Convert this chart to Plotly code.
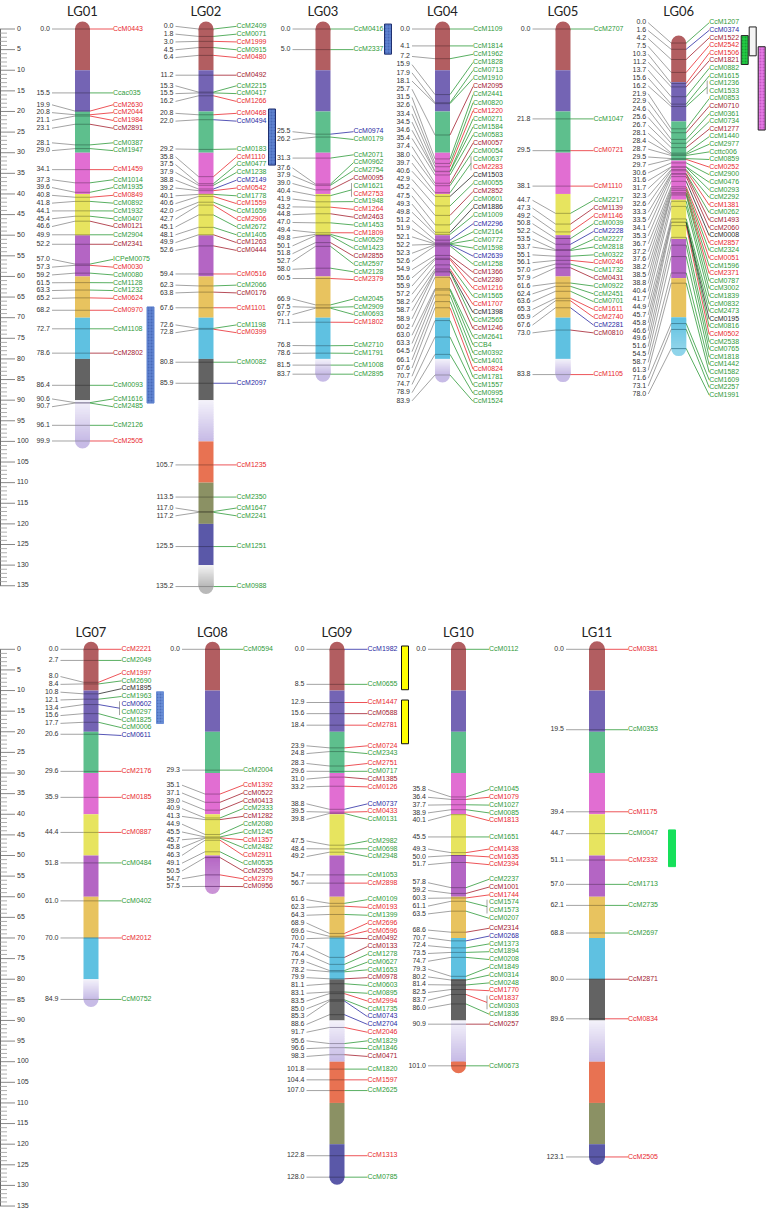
import math
import plotly.graph_objects as go

# ---------------- marker data (positions in cM) ----------------
LG01_pos = [0.0, 15.5, 19.9, 20.8, 21.1, 23.1, 28.1, 29.0, 34.1, 37.3, 39.6, 40.8, 41.8, 44.1, 45.4, 46.6, 49.9, 52.2,
            57.0, 57.3, 59.2, 61.5, 63.3, 65.2, 68.2, 72.7, 78.6, 86.4, 90.6, 90.7, 96.1, 99.9]
LG01_names = ["CcM0443", "Ccac035", "CcM2630", "CcM2044", "CcM1984", "CcM2891", "CcM0387", "CcM1947", "CcM1459",
              "CcM1014", "CcM1935", "CcM0849", "CcM0892", "CcM1932", "CcM0407", "CcM0121", "CcM2904", "CcM2341",
              "ICPeM0075", "CcM0030", "CcM0080", "CcM1128", "CcM1232", "CcM0624", "CcM0970", "CcM1108", "CcM2802",
              "CcM0093", "CcM1616", "CcM2485", "CcM2126", "CcM2505"]
LG01_npos = LG01_pos
LG01_cols = "rgrrrmggrggrgggmgmgrgggrrgmggggr"

LG02_pos = [0.0, 1.8, 3.0, 4.5, 6.4, 11.2, 15.3, 15.5, 16.2, 20.8, 22.0, 29.2, 35.8, 37.5, 37.9, 38.8, 39.2, 40.1,
            40.6, 42.0, 42.7, 45.1, 48.1, 49.9, 52.6, 59.4, 62.3, 63.8, 67.6, 72.6, 72.8, 80.8, 85.9, 105.7, 113.5,
            117.0, 117.2, 125.5, 135.2]
LG02_names = ["CcM2409", "CcM0071", "CcM1999", "CcM0915", "CcM0480", "CcM0492", "CcM2215", "CcM0417", "CcM1266",
              "CcM0468", "CcM0494", "CcM0183", "CcM1110", "CcM0477", "CcM1238", "CcM2149", "CcM0542", "CcM1778",
              "CcM1559", "CcM1659", "CcM2906", "CcM2672", "CcM1405", "CcM1263", "CcM0444", "CcM0516", "CcM2066",
              "CcM0176", "CcM1101", "CcM1198", "CcM0399", "CcM0082", "CcM2097", "CcM1235", "CcM2350", "CcM1647",
              "CcM2241", "CcM1251", "CcM0988"]
LG02_npos = LG02_pos
LG02_cols = "ggrgrmggrrbgrggbrgrgrggmmrgmrgrgbrggggg"

LG03_pos = [0.0, 5.0, 25.5, 26.2, 31.3, 37.6, 37.9, 39.0, 40.4, 41.9, 43.2, 44.8, 47.0, 49.4, 49.8, 50.1, 51.8, 52.7,
            58.0, 60.5, 66.9, 67.5, 67.7, 71.1, 76.8, 78.6, 81.5, 83.7]
LG03_names = ["CcM0416", "CcM2337", "CcM0974", "CcM0179", "CcM2071", "CcM0962", "CcM2754", "CcM0095", "CcM1621",
              "CcM2753", "CcM1948", "CcM1264", "CcM2463", "CcM1453", "CcM1809", "CcM0529", "CcM1423", "CcM2855",
              "CcM2597", "CcM2128", "CcM2379", "CcM2045", "CcM2909", "CcM0693", "CcM1802", "CcM2710", "CcM1791",
              "CcM1008", "CcM2895"]
LG03_npos = [0.0, 5.0, 25.5, 26.2, 31.3, 37.6, 37.9, 39.0, 40.4, 40.4, 41.9, 43.2, 44.8, 47.0, 49.4, 49.8, 50.1, 51.8,
             52.7, 58.0, 60.5, 66.9, 67.5, 67.7, 71.1, 76.8, 78.6, 81.5, 83.7]
LG03_cols = "ggbggggmgrgrmgrggmggrgggrgggg"

LG04_pos = [0.0, 4.1, 7.2, 15.9, 17.9, 18.1, 25.7, 31.5, 32.6, 33.4, 34.5, 34.6, 35.4, 37.4, 38.0, 39.7, 40.6, 42.9,
            45.2, 47.5, 49.3, 49.8, 51.2, 51.9, 52.1, 52.2, 52.3, 52.6, 54.9, 55.6, 55.9, 57.2, 58.2, 58.7, 58.9, 60.2,
            63.0, 63.3, 64.5, 66.1, 67.6, 70.7, 74.7, 78.9, 83.9]
LG04_names = ["CcM1109", "CcM1814", "CcM1962", "CcM1828", "CcM0713", "CcM1910", "CcM2095", "CcM2441", "CcM0820",
              "CcM1220", "CcM0271", "CcM1584", "CcM0583", "CcM0057", "CcM0054", "CcM0637", "CcM2283", "CcM1503",
              "CcM0055", "CcM2852", "CcM0601", "CcM1886", "CcM1009", "CcM2296", "CcM2164", "CcM0772", "CcM1598",
              "CcM2639", "CcM1258", "CcM1366", "CcM2280", "CcM1216", "CcM1565", "CcM1707", "CcM1398", "CcM2565",
              "CcM1246", "CcM2641", "CCB4", "CcM0392", "CcM1401", "CcM0824", "CcM1781", "CcM1557", "CcM0995",
              "CcM1524"]
LG04_npos = [0.0, 4.1, 7.2, 15.9, 17.9, 18.1, 25.7, 31.5, 32.6, 33.4, 34.5, 34.6, 35.4, 37.4, 38.0, 39.7, 39.7, 40.6,
             42.9, 45.2, 47.5, 49.3, 49.8, 51.2, 51.9, 52.1, 52.2, 52.3, 52.6, 54.9, 55.6, 55.9, 57.2, 58.2, 58.7,
             58.9, 60.2, 63.0, 63.3, 64.5, 66.1, 67.6, 70.7, 74.7, 78.9, 83.9]
LG04_cols = "ggggggmggrgggmggrkgmgkgbgggbgmmrgrkgmggggrgggg"

LG05_pos = [0.0, 21.8, 29.5, 38.1, 44.7, 47.3, 49.2, 50.8, 52.2, 53.5, 53.7, 55.1, 56.1, 57.0, 57.9, 61.6, 62.4, 63.6,
            65.3, 65.9, 67.6, 73.0, 83.8]
LG05_names = ["CcM2707", "CcM1047", "CcM0721", "CcM1110", "CcM2217", "CcM1139", "CcM1146", "CcM0039", "CcM2228",
              "CcM2227", "CcM2818", "CcM0322", "CcM0246", "CcM1732", "CcM0431", "CcM0922", "CcM2451", "CcM0701",
              "CcM1611", "CcM2740", "CcM2281", "CcM0810", "CcM1105"]
LG05_npos = LG05_pos
LG05_cols = "ggrrgmrgbgggrgmgggrrbmr"

LG06_pos = [0.0, 1.6, 4.2, 7.5, 10.3, 11.2, 13.7, 15.6, 16.2, 21.9, 22.9, 24.6, 25.6, 26.7, 28.1, 28.4, 28.7, 29.5,
            29.7, 30.6, 31.6, 31.7, 32.3, 32.6, 33.3, 33.5, 34.1, 35.3, 36.7, 37.2, 37.6, 38.2, 38.5, 38.8, 40.4, 41.7,
            44.9, 45.7, 45.8, 46.6, 49.6, 51.6, 54.5, 58.7, 61.3, 71.6, 73.1, 78.0]
LG06_names = ["CcM1207", "CcM0374", "CcM1522", "CcM2542", "CcM1506", "CcM1821", "CcM0882", "CcM1615", "CcM1236",
              "CcM1533", "CcM0853", "CcM0710", "CcM0361", "CcM0734", "CcM1277", "CcM1440", "CcM2977", "Ccttc006",
              "CcM0859", "CcM0252", "CcM2900", "CcM0476", "CcM0293", "CcM2292", "CcM1381", "CcM0262", "CcM1493",
              "CcM2060", "CcM0008", "CcM2857", "CcM2324", "CcM0051", "CcM1596", "CcM2371", "CcM0787", "CcM3002",
              "CcM1839", "CcM0832", "CcM2473", "CcM0195", "CcM0816", "CcM0502", "CcM2538", "CcM0765", "CcM1818",
              "CcM1442", "CcM1582", "CcM1609", "CcM2257", "CcM1991"]
LG06_npos = [0.0, 1.6, 4.2, 7.5, 10.3, 11.2, 13.7, 15.6, 16.2, 16.2, 21.9, 22.9, 24.6, 25.6, 26.7, 28.1, 28.4, 28.7,
             29.5, 29.7, 30.6, 31.6, 31.7, 32.3, 32.6, 33.3, 33.5, 34.1, 35.3, 36.7, 37.2, 37.6, 38.2, 38.5, 38.8,
             40.4, 41.7, 44.9, 45.7, 45.8, 45.8, 46.6, 49.6, 51.6, 54.5, 58.7, 61.3, 71.6, 73.1, 78.0]
LG06_cols = "gbmrrmgggggmggmggggrggggrgmmkrgrgrgggggkgrgggggggg"

LG07_pos = [0.0, 2.7, 8.0, 8.4, 10.8, 12.1, 13.4, 15.6, 17.7, 20.6, 29.6, 35.9, 44.4, 51.8, 61.0, 70.0, 84.9]
LG07_names = ["CcM2221", "CcM2049", "CcM1997", "CcM2690", "CcM1895", "CcM1963", "CcM0602", "CcM0297", "CcM1825",
              "CcM0006", "CcM0611", "CcM2176", "CcM0185", "CcM0887", "CcM0484", "CcM0402", "CcM2012", "CcM0752"]
LG07_npos = [0.0, 2.7, 8.0, 8.4, 10.8, 12.1, 13.4, 13.4, 15.6, 17.7, 20.6, 29.6, 35.9, 44.4, 51.8, 61.0, 70.0, 84.9]
LG07_cols = "rgrgkgbgggbrrrggrg"

LG08_pos = [0.0, 29.3, 35.1, 37.1, 39.0, 40.9, 41.3, 44.9, 45.5, 45.7, 45.8, 46.3, 49.1, 50.5, 54.7, 57.5]
LG08_names = ["CcM0594", "CcM2004", "CcM1392", "CcM0522", "CcM0413", "CcM2333", "CcM1282", "CcM2080", "CcM1245",
              "CcM1357", "CcM2482", "CcM2911", "CcM0535", "CcM2955", "CcM2379", "CcM0956"]
LG08_npos = LG08_pos
LG08_cols = "ggrmmgmggrgrgmrm"

LG09_pos = [0.0, 8.5, 12.9, 15.6, 18.4, 23.9, 24.8, 28.3, 29.6, 31.0, 33.2, 38.8, 39.5, 39.8, 47.5, 48.4, 49.2, 54.7,
            56.7, 61.6, 62.3, 64.3, 68.9, 69.6, 70.0, 74.7, 76.4, 77.9, 78.2, 79.9, 81.1, 83.1, 83.5, 85.0, 85.3, 88.6,
            91.7, 95.6, 96.6, 98.3, 101.8, 104.4, 107.0, 122.8, 128.0]
LG09_names = ["CcM1982", "CcM0655", "CcM1447", "CcM0588", "CcM2781", "CcM0724", "CcM2343", "CcM2751", "CcM0717",
              "CcM1385", "CcM0126", "CcM0737", "CcM0433", "CcM0131", "CcM2982", "CcM0698", "CcM2948", "CcM1053",
              "CcM2898", "CcM0109", "CcM0193", "CcM1399", "CcM2696", "CcM0596", "CcM0492", "CcM0133", "CcM1278",
              "CcM0627", "CcM1653", "CcM0978", "CcM0603", "CcM0895", "CcM2994", "CcM1735", "CcM0743", "CcM2704",
              "CcM2046", "CcM1829", "CcM1846", "CcM0471", "CcM1820", "CcM1597", "CcM2625", "CcM1313", "CcM0785"]
LG09_npos = LG09_pos
LG09_cols = "bgrmrrgrgmrbrgggggrgrgrrmmgggmggrgbbrggmgrgrg"

LG10_pos = [0.0, 35.8, 36.4, 37.7, 38.9, 40.1, 45.5, 49.3, 50.0, 51.7, 57.8, 59.2, 60.3, 61.1, 63.5, 68.6, 70.7, 72.4,
            73.5, 74.7, 79.3, 80.2, 81.4, 82.5, 83.7, 86.0, 90.9, 101.0]
LG10_names = ["CcM0112", "CcM1045", "CcM1079", "CcM1027", "CcM0085", "CcM1813", "CcM1651", "CcM1438", "CcM1635",
              "CcM2394", "CcM2237", "CcM1001", "CcM1744", "CcM1574", "CcM1573", "CcM0207", "CcM2314", "CcM0268",
              "CcM1373", "CcM1894", "CcM0208", "CcM1849", "CcM0314", "CcM0248", "CcM1770", "CcM1837", "CcM0303",
              "CcM1836", "CcM0257", "CcM0673"]
LG10_npos = [0.0, 35.8, 36.4, 37.7, 38.9, 40.1, 45.5, 49.3, 50.0, 51.7, 57.8, 59.2, 60.3, 61.1, 61.1, 63.5, 68.6,
             70.7, 72.4, 73.5, 74.7, 79.3, 80.2, 81.4, 82.5, 83.7, 83.7, 86.0, 90.9, 101.0]
LG10_cols = "ggrggrgrrrgmrgggmbggggggrrggmg"

LG11_pos = [0.0, 19.5, 39.4, 44.7, 51.1, 57.0, 62.1, 68.8, 80.0, 89.6, 123.1]
LG11_names = ["CcM0381", "CcM0353", "CcM1175", "CcM0047", "CcM2332", "CcM1713", "CcM2735", "CcM2697", "CcM2871",
              "CcM0834", "CcM2505"]
LG11_npos = LG11_pos
LG11_cols = "rgrgrgggmrr"

# bracketed marker pairs (shared position)
BRACKETS = [("CcM1621", "CcM2753"), ("CcM0637", "CcM2283"), ("CcM1236", "CcM1533"),
            ("CcM0602", "CcM0297"), ("CcM1574", "CcM1573"), ("CcM1837", "CcM0303")]

# QTL intervals (cM)
QTL_lg = ["LG01", "LG02", "LG03", "LG06", "LG06", "LG06", "LG07", "LG09", "LG09", "LG11"]
QTL_start = [67.4, 19.4, -1.2, 1.6, -0.5, 4.3, 10.3, -0.8, 12.3, 43.8]
QTL_end = [90.7, 33.0, 6.1, 8.6, 6.5, 24.5, 18.0, 9.8, 22.9, 52.7]

LG_DATA = {
    "LG01": (LG01_pos, LG01_names, LG01_npos, LG01_cols),
    "LG02": (LG02_pos, LG02_names, LG02_npos, LG02_cols),
    "LG03": (LG03_pos, LG03_names, LG03_npos, LG03_cols),
    "LG04": (LG04_pos, LG04_names, LG04_npos, LG04_cols),
    "LG05": (LG05_pos, LG05_names, LG05_npos, LG05_cols),
    "LG06": (LG06_pos, LG06_names, LG06_npos, LG06_cols),
    "LG07": (LG07_pos, LG07_names, LG07_npos, LG07_cols),
    "LG08": (LG08_pos, LG08_names, LG08_npos, LG08_cols),
    "LG09": (LG09_pos, LG09_names, LG09_npos, LG09_cols),
    "LG10": (LG10_pos, LG10_names, LG10_npos, LG10_cols),
    "LG11": (LG11_pos, LG11_names, LG11_npos, LG11_cols),
}

# ---------------- layout / style ----------------
W, H = 766, 1210
PX = 4.124                     # pixels per cM
ROW_TOP = [29.0, 649.3]        # pixel row of 0 cM for each row
GAP = 25.0
FONT = "Liberation Sans, Arial, sans-serif"
TITLE_FONT = "Lato, Liberation Sans, sans-serif"

# label spacing (px) for position labels (dl) and names (dn); lo = top limit (px above row origin)
LAYOUT = {
    "LG01": dict(row=0, cx=82.5),
    "LG02": dict(row=0, cx=206.0),
    "LG03": dict(row=0, cx=323.0),
    "LG04": dict(row=0, cx=442.5, dl=8.2, dn=8.07, lo=-8.5),
    "LG05": dict(row=0, cx=563.0),
    "LG06": dict(row=0, cx=678.7, off=3.4, sc=0.95, dl=7.9, dn=7.6, lo=-6.3, fade=True),
    "LG07": dict(row=1, cx=91.0),
    "LG08": dict(row=1, cx=212.5, fade=True),
    "LG09": dict(row=1, cx=337.0),
    "LG10": dict(row=1, cx=458.5),
    "LG11": dict(row=1, cx=597.0, hw=8.0),
}
QTL_dx = [68, 66, 65, 66, 74, 83, 69, 68, 68, 75]
QTL_fill = ["#5f82cf", "#5f82cf", "#5f82cf", "#22cc44", "#f4f4f4", "#e47ae4", "#6a8ed6", "#ffff00", "#ffff00", "#16e05a"]
QTL_pat = [".", ".", ".", ".", "", ".", ".", "", "", ""]
QTL_pfg = ["#2f4f9f", "#2f4f9f", "#2f4f9f", "#0a7a20", "#999999", "#a030a0", "#2f4f9f", "#000000", "#000000", "#0a9a3a"]
QTL_line = ["#5f82cf", "#1f2f6f", "#1f2f6f", "#222222", "#222222", "#222222", "#6a8ed6", "#111111", "#111111", "#16e05a"]

SEG = ["#b25e61", "#7464b4", "#5ebf8d", "#e16ed2", "#e7e45f", "#b465c4", "#e8c35f", "#5fc1e1", "#636363",
       "#d6cdef", "#e87252", "#8b9164", "#5a58a8", "#c4c4c4"]
GRAD = {9: ("#f3f1fa", "#c7bbe6"), 13: ("#f2f2f2", "#b9b9b9")}
NAME_COL = {"g": "#2f9a3a", "r": "#e8282e", "m": "#a3202f", "b": "#2b2ba3", "k": "#2a2a2a"}


def darken(c, f=0.72):
    r, g, b = int(c[1:3], 16), int(c[3:5], 16), int(c[5:7], 16)
    return "#%02x%02x%02x" % (int(r * f), int(g * f), int(b * f))


def mix(c1, c2, t):
    a = [int(c1[i:i + 2], 16) for i in (1, 3, 5)]
    b = [int(c2[i:i + 2], 16) for i in (1, 3, 5)]
    return "#%02x%02x%02x" % tuple(int(round(a[j] + (b[j] - a[j]) * t)) for j in range(3))


def row_shift(row):
    return (ROW_TOP[row] - ROW_TOP[0]) / PX


def spread(vals, d, lo):
    clusters = []

    def top(c):
        s, n = c
        return max(lo, s / n - (n - 1) * d / 2)

    for v in vals:
        clusters.append([v, 1])
        while len(clusters) > 1:
            c1, c2 = clusters[-2], clusters[-1]
            if top(c1) + c1[1] * d > top(c2) + 1e-9:
                clusters[-2] = [c1[0] + c2[0], c1[1] + c2[1]]
                clusters.pop()
            else:
                break
    out = []
    for c in clusters:
        t = top(c)
        out.extend(t + k * d for k in range(c[1]))
    return out


shapes = []
lines = {}
texts = {}


def add_line(color, width, pts):
    xs, ys = lines.setdefault((color, width), ([], []))
    for x, y in pts:
        xs.append(x)
        ys.append(y)
    xs.append(None)
    ys.append(None)


def add_text(color, size, position, family, x, y, t):
    d = texts.setdefault((color, size, position, family), ([], [], []))
    d[0].append(x)
    d[1].append(y)
    d[2].append(t)


def grad_rects(cx, hw, y0, y1, c0, c1, n=24):
    for j in range(n):
        ya = y0 + (y1 - y0) * j / n
        yb = y0 + (y1 - y0) * (j + 1) / n
        if j < n - 1:
            yb += 0.3
        shapes.append(dict(type="rect", xref="x", yref="y", x0=cx - hw, x1=cx + hw, y0=ya, y1=yb,
                           fillcolor=mix(c0, c1, j / (n - 1)), line=dict(width=0), layer="below"))


bracket_first = {a: b for a, b in BRACKETS}

for lg, (pos, names, npos, cols) in LG_DATA.items():
    L = LAYOUT[lg]
    row, cx = L["row"], L["cx"]
    hw = L.get("hw", 7.5)
    off, sc = L.get("off", 0.0), L.get("sc", 1.0)
    dl, dn = L.get("dl", 7.8) / PX, L.get("dn", 7.8) / PX
    sh = row_shift(row)
    lo = sh + L.get("lo", -9.0) / PX

    def by(v, sh=sh, off=off, sc=sc):
        return sh + off + sc * v

    length = pos[-1]
    nseg = int(math.ceil(length / 10 - 1e-9))
    seg_idx = list(range(nseg))
    if seg_idx[-1] == 8:
        seg_idx[-1] = 9
    r = hw / PX
    last = seg_idx[-1]
    if last in GRAD:
        bottom_col = GRAD[last][1]
    elif L.get("fade"):
        bottom_col = mix(SEG[last], "#ffffff", 0.3)
    else:
        bottom_col = SEG[last]
    shapes.append(dict(type="circle", xref="x", yref="y", x0=cx - hw, x1=cx + hw, y0=by(0) - r, y1=by(0) + r,
                       fillcolor=SEG[0], line=dict(width=0), layer="below"))
    shapes.append(dict(type="circle", xref="x", yref="y", x0=cx - hw, x1=cx + hw, y0=by(length) - r,
                       y1=by(length) + r, fillcolor=bottom_col, line=dict(width=0), layer="below"))
    for k in range(nseg):
        ci = seg_idx[k]
        a, b = 10 * k, min(10 * k + 10, length)
        if ci in GRAD:
            grad_rects(cx, hw, by(a), by(b), GRAD[ci][0], GRAD[ci][1])
        elif k == nseg - 1 and L.get("fade"):
            grad_rects(cx, hw, by(a), by(b), SEG[ci], bottom_col)
        else:
            shapes.append(dict(type="rect", xref="x", yref="y", x0=cx - hw, x1=cx + hw, y0=by(a), y1=by(b),
                               fillcolor=SEG[ci], line=dict(width=0), layer="below"))
    # marker lines across the bar
    for p in pos:
        k = min(int(p // 10), nseg - 1)
        add_line(darken(SEG[seg_idx[k]]), 1.0, [(cx - hw, by(p)), (cx + hw, by(p))])
    # position labels (left)
    ly = spread([by(p) for p in pos], dl, lo)
    lx = cx - hw - GAP
    for p, y in zip(pos, ly):
        add_text("#333333", 7, "middle left", FONT, lx, y, "%.1f" % p)
        add_line("#8c8c8c", 0.8, [(lx + 2, y), (cx - hw, by(p))])
    # marker names (right)
    ny = spread([by(p) for p in npos], dn, lo)
    nx = cx + hw + GAP
    i = 0
    while i < len(names):
        c = NAME_COL[cols[i]]
        if names[i] in bracket_first and i + 1 < len(names) and names[i + 1] == bracket_first[names[i]]:
            ym = (ny[i] + ny[i + 1]) / 2
            add_line(c, 0.8, [(cx + hw, by(npos[i])), (nx - 4, ym)])
            add_line("#8c8c8c", 0.8, [(nx - 4, ny[i] - 3 / PX), (nx - 4, ny[i + 1] + 3 / PX)])
            add_text(c, 7, "middle right", FONT, nx - 2, ny[i], names[i])
            add_text(NAME_COL[cols[i + 1]], 7, "middle right", FONT, nx - 2, ny[i + 1], names[i + 1])
            i += 2
        else:
            add_line(c, 0.8, [(cx + hw, by(npos[i])), (nx - 2, ny[i])])
            add_text(c, 7, "middle right", FONT, nx - 2, ny[i], names[i])
            i += 1
    add_text("#222222", 13, "middle center", TITLE_FONT, cx, sh - 16 / PX, lg)

# ruler for each row
for row in (0, 1):
    sh = row_shift(row)
    add_line("#6a6a6a", 1.0, [(0.5, sh), (0.5, sh + 135)])
    for v in range(0, 136):
        major = v % 5 == 0
        add_line("#6a6a6a" if major else "#9a9a9a", 0.8, [(0, sh + v), (15 if major else 7, sh + v)])
        if major:
            add_text("#333333", 7, "middle right", FONT, 17, sh + v, str(v))

fig = go.Figure()

# QTL boxes
for i, lg in enumerate(QTL_lg):
    L = LAYOUT[lg]
    sh = row_shift(L["row"])
    marker = dict(color=QTL_fill[i], line=dict(color=QTL_line[i], width=1))
    if QTL_pat[i]:
        marker["pattern"] = dict(shape=QTL_pat[i], fgcolor=QTL_pfg[i], size=3, solidity=0.35, fillmode="overlay")
    fig.add_trace(go.Bar(x=[L["cx"] + QTL_dx[i]], y=[QTL_end[i] - QTL_start[i]], base=[sh + QTL_start[i]],
                         width=[7], marker=marker, hoverinfo="skip", showlegend=False))

for (color, width), (xs, ys) in lines.items():
    fig.add_trace(go.Scatter(x=xs, y=ys, mode="lines", line=dict(color=color, width=width),
                             hoverinfo="skip", showlegend=False))

for (color, size, position, family), (xs, ys, ts) in texts.items():
    fig.add_trace(go.Scatter(x=xs, y=ys, text=ts, mode="text", textposition=position,
                             textfont=dict(color=color, size=size, family=family),
                             hoverinfo="skip", showlegend=False))

fig.update_layout(
    width=W, height=H, autosize=False,
    margin=dict(l=0, r=0, t=0, b=0, pad=0),
    paper_bgcolor="white", plot_bgcolor="white",
    barmode="overlay", showlegend=False,
    shapes=shapes,
    xaxis=dict(range=[0, W], visible=False, fixedrange=True),
    yaxis=dict(range=[(H - ROW_TOP[0]) / PX, -ROW_TOP[0] / PX], visible=False, fixedrange=True),
)

fig.write_html("out.html", config={"displayModeBar": False},
               post_script="document.body.style.margin='0';document.body.style.overflow='hidden';")
